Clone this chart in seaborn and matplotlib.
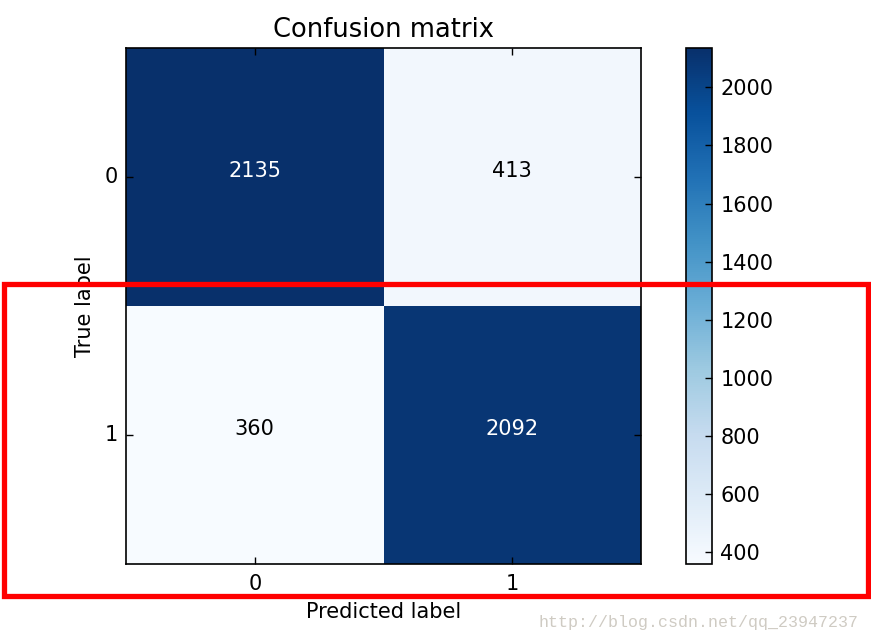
import numpy as np
import pandas as pd
import matplotlib
matplotlib.use("Agg")
import matplotlib.pyplot as plt
from matplotlib.patches import Rectangle
import seaborn as sns

classes = ["0", "1"]
row_true0 = [2135, 413]
row_true1 = [360, 2092]
cbar_ticks = [400, 600, 800, 1000, 1200, 1400, 1600, 1800, 2000]
title = "Confusion matrix"
xlabel = "Predicted label"
ylabel = "True label"
watermark = "http://blog.csdn.net/qq_23947237"

plt.rcParams['font.family'] = ['DejaVu Sans']

cm = pd.DataFrame([row_true0, row_true1], index=classes, columns=classes)

W, H = 871, 642
fig = plt.figure(figsize=(W / 100, H / 100), dpi=100)
ax = fig.add_axes([126 / W, 1 - 564 / H, (641 - 126) / W, (564 - 48) / H])
cax = fig.add_axes([686 / W, 1 - 564 / H, (712 - 686) / W, (564 - 48) / H])

sns.heatmap(cm, annot=True, fmt="d", cmap="Blues", ax=ax, cbar_ax=cax,
            annot_kws={"fontsize": 15}, linewidths=0, square=False)

thresh = cm.values.max() / 2
for t in ax.texts:
    t.set_verticalalignment("baseline")
    val = int(t.get_text())
    t.set_color("white" if val > thresh else "black")

for s in ax.spines.values():
    s.set_visible(True)
    s.set_color("black")
    s.set_linewidth(1.2)

ax.tick_params(direction="in", length=5, width=1, top=True, right=True,
               bottom=True, left=True, labelsize=15, pad=7)
ax.tick_params(axis="y", pad=6)
ax.set_xticklabels(classes, rotation=0)
ax.set_yticklabels(classes, rotation=0)
ax.set_title(title, fontsize=18.5, pad=8)
ax.set_xlabel(xlabel, fontsize=15, labelpad=6)
ax.set_ylabel(ylabel, fontsize=15, labelpad=7)

cax.set_yticks(cbar_ticks)
cax.tick_params(direction="in", length=5, width=1, labelsize=15, pad=6, right=True, left=False)
cb = ax.collections[0].colorbar
cb.outline.set_visible(True)
cb.outline.set_edgecolor("black")
cb.outline.set_linewidth(1.2)

fig.patches.append(Rectangle((3.5 / W, 1 - 595.5 / H), (868 - 3.5) / W, (595.5 - 283.5) / H,
                             transform=fig.transFigure, fill=False,
                             edgecolor="#ff0000", linewidth=3.8, zorder=10))

fig.text(858 / W, 1 - 622 / H, watermark, ha="right", va="center",
         fontsize=12, family="Liberation Mono", color="#cfcbc3")

fig.savefig("out.png", dpi=100, facecolor="white")
